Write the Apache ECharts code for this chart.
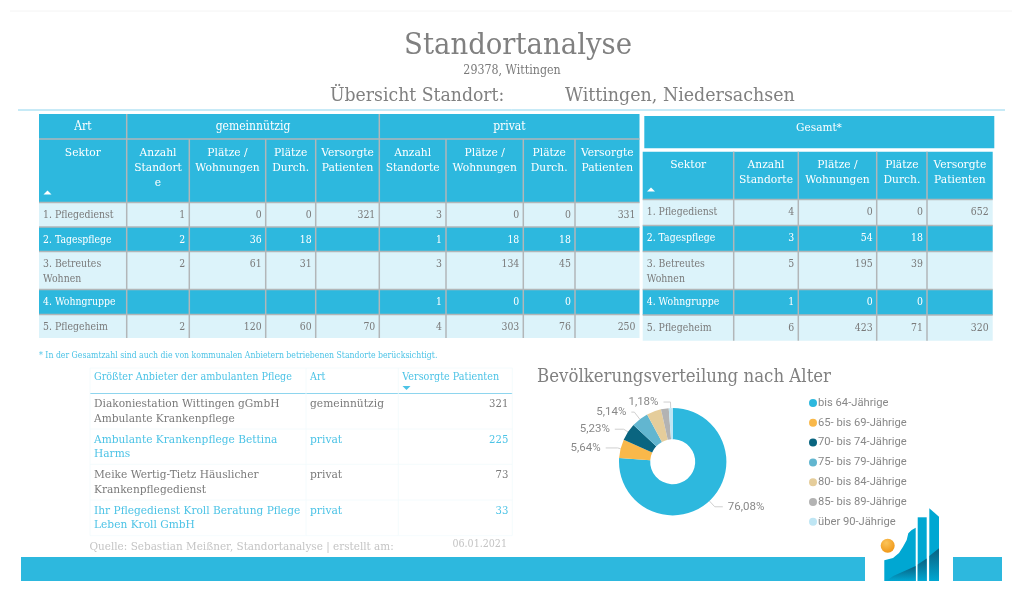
<!DOCTYPE html>
<html>
<head>
<meta charset="utf-8">
<title>Standortanalyse</title>
<script src="https://cdn.jsdelivr.net/npm/echarts@6/dist/echarts.min.js"></script>
<style>
  html, body { margin: 0; padding: 0; background: #fff; }
  #chart { width: 1024px; height: 604px; }
</style>
</head>
<body>
<div id="chart"></div>
<script>
// Data
const sektoren = ["1. Pflegedienst", "2. Tagespflege", "3. Betreutes\nWohnen", "4. Wohngruppe", "5. Pflegeheim"];

const gemAnzahl = [1, 2, 2, null, 2];
const gemPlaetze = [0, 36, 61, null, 120];
const gemDurch = [0, 18, 31, null, 60];
const gemPatienten = [321, null, null, null, 70];

const privAnzahl = [3, 1, 3, 1, 4];
const privPlaetze = [0, 18, 134, 0, 303];
const privDurch = [0, 18, 45, 0, 76];
const privPatienten = [331, null, null, null, 250];

const gesAnzahl = [4, 3, 5, 1, 6];
const gesPlaetze = [0, 54, 195, 0, 423];
const gesDurch = [0, 18, 39, 0, 71];
const gesPatienten = [652, null, null, null, 320];

const anbieterNamen = [
  "Diakoniestation Wittingen gGmbH\nAmbulante Krankenpflege",
  "Ambulante Krankenpflege Bettina\nHarms",
  "Meike Wertig-Tietz Häuslicher\nKrankenpflegedienst",
  "Ihr Pflegedienst Kroll Beratung Pflege\nLeben Kroll GmbH",
];
const anbieterArt = ["gemeinnützig", "privat", "privat", "privat"];
const anbieterPatienten = [321, 225, 73, 33];

const altersgruppen = ["bis 64-Jährige", "65- bis 69-Jährige", "70- bis 74-Jährige", "75- bis 79-Jährige",
  "80- bis 84-Jährige", "85- bis 89-Jährige", "über 90-Jährige"];
const altersAnteile = [76.08, 5.64, 5.23, 5.14, 4.4, 2.33, 1.18];
const altersLabel = [true, true, true, true, false, false, true];
const altersFarben = ["#2db8de", "#f9b84a", "#0a6580", "#62b6d0", "#e5cd9b", "#b3b3b3", "#bfe6f4"];

// leader line lengths per slice: [radial, horizontal]
const leader = [[8, 8], [3, 12], [5, 9], [9, 3], [0, 0], [0, 0], [6, 7]];

const BLUE = "#2db8de";
const PALE = "#dcf3fa";
const GRID = "#b2b6b8";
const TEXT = "#7a7a7a";
const LINK = "#4cc3e6";
const FONT = '"DejaVu Serif", serif'; // horizontally squeezed below, no slab face installed
const SQUEEZE = 0.9;
const SANS = 'Roboto, sans-serif';

const g = []; // graphic elements

function rect(x0, y0, x1, y1, fill) {
  g.push({ type: "rect", silent: true, shape: { x: x0, y: y0, width: x1 - x0, height: y1 - y0 }, style: { fill } });
}
function line(x0, y0, x1, y1, stroke, w) {
  g.push({ type: "line", silent: true, shape: { x1: x0, y1: y0, x2: x1, y2: y1 }, style: { stroke, lineWidth: w } });
}
function text(str, x, y, size, fill, align, lh) {
  String(str).split("\n").forEach((t, i) => {
    g.push({ type: "text", silent: true, x, y: y + i * (lh || 0), scaleX: SQUEEZE, style: {
      text: t, x: 0, y: 0, fill, textAlign: align || "left", textVerticalAlign: "middle",
      font: size + "px " + FONT,
    } });
  });
}
function arrow(x, y, up, fill) {
  const tip = up ? y - 3 : y + 3;
  const base = up ? y + 1 : y - 1;
  g.push({ type: "polygon", silent: true, shape: { points: [[x - 4, base], [x + 4, base], [x, tip]] }, style: { fill } });
}

// Body rows shared by both sector tables
function bodyRows(xs, rowYs, columns) {
  sektoren.forEach((name, r) => {
    const dark = r % 2 === 1;
    const color = dark ? "#fff" : TEXT;
    rect(xs[0], rowYs[r], xs[xs.length - 1], rowYs[r + 1], dark ? BLUE : PALE);
    text(name, xs[0] + 4, rowYs[r] + 13, 10.4, color, "left", 14.5);
    columns.forEach((col, c) => {
      if (col[r] !== null) text(col[r], xs[c + 2] - 4, rowYs[r] + 13, 10.4, color, "right");
    });
  });
  rowYs.slice(0, -1).forEach((y) => line(xs[0], y, xs[xs.length - 1], y, GRID, 1.5));
  xs.slice(1, -1).forEach((x) => line(x, rowYs[0], x, rowYs[rowYs.length - 1], GRID, 1.5));
}

function headerLabels(label, xs, i, y) {
  text(label, (xs[i] + xs[i + 1]) / 2, y, 11.9, "#fff", "center", 15);
}

// Left table: gemeinnützig + privat
const xa = [39, 126.7, 189.3, 265.7, 315.7, 379.3, 446, 523.3, 575, 639.5];
const ya = [202.5, 227, 251.5, 289.5, 314.5, 338];
rect(xa[0], 114, xa[9], ya[0], BLUE);
line(xa[0], 139, xa[9], 139, GRID, 1.5);
[xa[1], xa[5]].forEach((x) => line(x, 114, x, 139, GRID, 1.5));
xa.slice(1, -1).forEach((x) => line(x, 139, x, ya[0], GRID, 1.5));
text("Art", (xa[0] + xa[1]) / 2, 127, 12, "#fff", "center");
text("gemeinnützig", (xa[1] + xa[5]) / 2, 127, 12, "#fff", "center");
text("privat", (xa[5] + xa[9]) / 2, 127, 12, "#fff", "center");
headerLabels("Sektor", xa, 0, 152.5);
["Anzahl\nStandort\ne", "Plätze /\nWohnungen", "Plätze\nDurch.", "Versorgte\nPatienten",
 "Anzahl\nStandorte", "Plätze /\nWohnungen", "Plätze\nDurch.", "Versorgte\nPatienten"]
  .forEach((label, i) => headerLabels(label, xa, i + 1, 152.5));
arrow(47.5, 193.5, true, "#fff");
bodyRows(xa, ya, [gemAnzahl, gemPlaetze, gemDurch, gemPatienten, privAnzahl, privPlaetze, privDurch, privPatienten]);

// Right table: Gesamt
const xb = [642.7, 733.7, 798.3, 876.7, 927, 992.7];
const yb = [199.5, 225.5, 251.5, 289.5, 315, 340.7];
rect(644.3, 116, 994.3, 148.3, BLUE);
text("Gesamt*", 819, 127.7, 11.7, "#fff", "center");
rect(xb[0], 151.7, xb[5], yb[0], BLUE);
xb.slice(1, -1).forEach((x) => line(x, 151.7, x, yb[0], GRID, 1.5));
headerLabels("Sektor", xb, 0, 164.5);
["Anzahl\nStandorte", "Plätze /\nWohnungen", "Plätze\nDurch.", "Versorgte\nPatienten"]
  .forEach((label, i) => headerLabels(label, xb, i + 1, 164.5));
arrow(651, 190.5, true, "#fff");
bodyRows(xb, yb, [gesAnzahl, gesPlaetze, gesDurch, gesPatienten]);

// Provider table
const xc = [90, 306, 398.3, 512.3];
const yc = [368, 393.5, 429, 464.3, 500, 535.7];
text("Größter Anbieter der ambulanten Pflege", xc[0] + 4, 377.5, 10.7, LINK);
text("Art", xc[1] + 4, 377.5, 10.7, LINK);
text("Versorgte Patienten", xc[2] + 4, 377.5, 10.7, LINK);
arrow(406.5, 387, false, LINK);
anbieterNamen.forEach((name, r) => {
  const color = r % 2 === 1 ? LINK : TEXT;
  const y = yc[r + 1] + 10.7;
  text(name, xc[0] + 4, y, 11.8, color, "left", 14.7);
  text(anbieterArt[r], xc[1] + 4, y, 11.9, color);
  text(anbieterPatienten[r], xc[3] - 4, y, 11.2, color, "right");
});
yc.forEach((y, i) => line(xc[0], y, xc[3], y, i === 1 ? "#8ed5ee" : "#f1fafd", i === 1 ? 1 : 0.8));
xc.forEach((x) => line(x, yc[0], x, yc[5], "#f1fafd", 0.8));

// Headline block
line(10, 11, 1012, 11, "#f4f4f4", 1);
text("Standortanalyse", 518, 46, 30.6, "#808080", "center");
text("29378, Wittingen", 512, 71, 12.3, TEXT, "center");
text("Übersicht Standort:", 330, 96, 19.2, "#808080");
text("Wittingen, Niedersachsen", 565, 96, 19.4, "#808080");
line(18, 110, 1005, 110, "#8ed5ee", 1);
text("* In der Gesamtzahl sind auch die von kommunalen Anbietern betriebenen Standorte berücksichtigt.", 39, 355.5, 8.65, LINK);
text("Bevölkerungsverteilung nach Alter", 537, 377, 18.45, "#808080");
text("Quelle: Sebastian Meißner, Standortanalyse | erstellt am:", 89.5, 547, 11.6, "#c4c4c4");
text("06.01.2021", 507, 544, 10.6, "#c4c4c4", "right");

// Footer band and logo
rect(21, 557, 865, 581, BLUE);
rect(953, 557, 1002, 581, BLUE);
g.push({ type: "circle", silent: true, shape: { cx: 887.7, cy: 545.7, r: 7 },
  style: { fill: new echarts.graphic.RadialGradient(0.4, 0.3, 0.8, [
    { offset: 0, color: "#fbc45a" }, { offset: 1, color: "#ee9210" }]) } });
const logoDark = () => new echarts.graphic.LinearGradient(0, 0, 0, 1, [
  { offset: 0, color: "#0a6080" }, { offset: 1, color: "#00a7d2" }]);
[[[884.3, 581], [884.3, 560.3], [893, 558], [899, 553], [903, 546.7], [906.7, 540], [908.3, 533.3], [911.7, 530], [915.7, 527.7], [915.7, 581]],
 [[917.7, 517.3], [926.7, 517.3], [926.7, 581], [917.7, 581]],
 [[929.3, 508.3], [939, 516.7], [939, 581], [929.3, 581]]]
  .forEach((points) => g.push({ type: "polygon", silent: true, shape: { points }, style: { fill: "#00a7d2" } }));
[[[886, 581], [893.3, 576], [915.7, 566], [915.7, 581]],
 [[917.7, 564.5], [926.7, 558.5], [926.7, 581], [917.7, 581]],
 [[929.3, 556], [939, 548.3], [939, 581], [929.3, 581]]]
  .forEach((points) => g.push({ type: "polygon", silent: true, shape: { points }, style: { fill: logoDark() } }));

const chart = echarts.init(document.getElementById("chart"), null, { renderer: "canvas" });
chart.setOption({
  animation: false,
  textStyle: { fontFamily: SANS },
  graphic: { elements: g },
  legend: {
    orient: "vertical", left: 804, top: 392.5, itemWidth: 8, itemHeight: 8, itemGap: 8.8,
    icon: "circle", selectedMode: false,
    textStyle: { color: "#888", fontSize: 11.2, fontFamily: SANS, padding: [0, 0, 0, -4] },
    data: altersgruppen,
  },
  series: [{
    type: "pie",
    center: [672.7, 461.7],
    radius: [22.5, 53.7],
    startAngle: 90,
    clockwise: true,
    silent: true,
    avoidLabelOverlap: false,
    color: altersFarben,
    label: { color: "#888", fontSize: 11.5, fontFamily: SANS, formatter: (p) => p.value.toFixed(2).replace(".", ",") + "%" },
    labelLine: { lineStyle: { color: "#cfcfcf", width: 1 } },
    data: altersgruppen.map((name, i) => ({
      name, value: altersAnteile[i],
      label: { show: altersLabel[i] },
      labelLine: { show: altersLabel[i], length: leader[i][0], length2: leader[i][1] },
    })),
  }],
});
</script>
</body>
</html>
